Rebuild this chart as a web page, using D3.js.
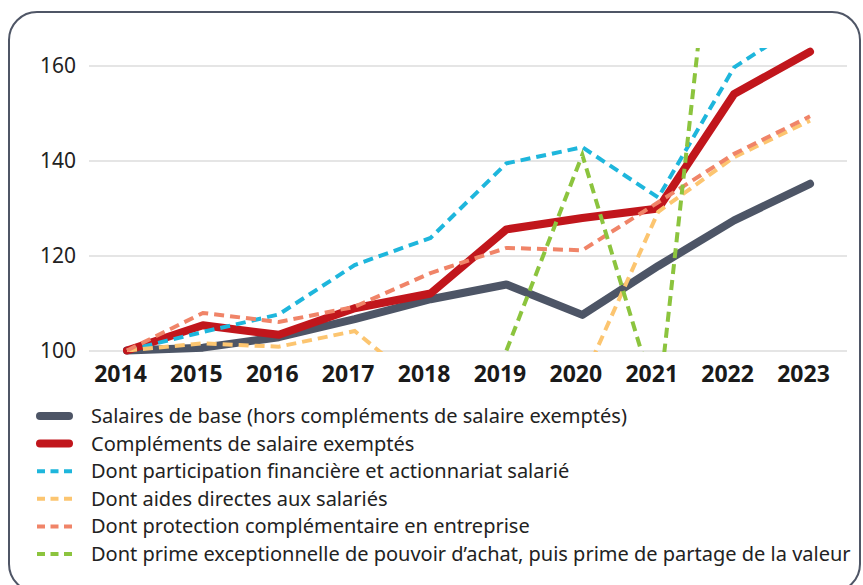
<!DOCTYPE html>
<html>
<head>
<meta charset="utf-8">
<script src="https://cdn.jsdelivr.net/npm/d3@7"></script>
<style>
  body { margin: 0; background: #fff; }
  svg { display: block; }
  svg text { font-family: "Noto Sans", "Open Sans", sans-serif; }
</style>
</head>
<body>
<div id="chart"></div>
<script>
// data (index, 2014 = 100)
var years = [2014, 2015, 2016, 2017, 2018, 2019, 2020, 2021, 2022, 2023];
var yTicks = [100, 120, 140, 160];
var baseSal = [100, 100.6, 102.8, 106.6, 110.8, 113.9, 107.5, 117.8, 127.4, 135.1];
var complements = [100, 105.3, 103.3, 108.9, 112, 125.5, 127.9, 129.9, 154, 162.9];
var participation = [100, 103.9, 107.6, 118, 123.7, 139.4, 142.8, 132.2, 159.6, 170];
var aides = [100, 101.5, 100.8, 104.1, 91, 87, 93.5, 129.2, 140.7, 148.4];
var protection = [100, 107.9, 106, 109.2, 116.3, 121.6, 121.1, 131.2, 141.4, 149.3];
var prime = [null, null, null, null, null, 100, 141.2, 88, 233, 205];

var seriesNames = [
  "Salaires de base (hors compléments de salaire exemptés)",
  "Compléments de salaire exemptés",
  "Dont participation financière et actionnariat salarié",
  "Dont aides directes aux salariés",
  "Dont protection complémentaire en entreprise",
  "Dont prime exceptionnelle de pouvoir d’achat, puis prime de partage de la valeur"
];
var seriesValues = [baseSal, complements, participation, aides, protection, prime];
var colors = ["#4d5566", "#c1161c", "#1eb6dc", "#fcc570", "#f08468", "#8cc43e"];
var solid = [true, true, false, false, false, false];

var W = 863, H = 585;
var svg = d3.select("#chart").append("svg").attr("width", W).attr("height", H);

// frame
svg.append("rect")
  .attr("x", 9).attr("y", 12).attr("width", 851).attr("height", 580)
  .attr("rx", 28).attr("ry", 28)
  .attr("fill", "none").attr("stroke", "#4f5666").attr("stroke-width", 2);

var x = d3.scalePoint().domain(years).range([127, 810]);
var y = d3.scaleLinear().domain([100, 160]).range([350.5, 65.5]);

// grid + y labels
var yAxis = svg.append("g").attr("transform", "translate(89,0)")
  .call(d3.axisLeft(y).tickValues(yTicks).tickSize(-758).tickPadding(13).tickFormat(d3.format("d")));
yAxis.select(".domain").remove();
yAxis.selectAll(".tick line").attr("stroke", "#dcdcdc").attr("stroke-width", 1.6);
yAxis.selectAll(".tick text").attr("fill", "#222").style("font-size", "21px").attr("dy", "0.35em");

// x labels
var xAxis = svg.append("g").attr("transform", "translate(-7,382)")
  .call(d3.axisBottom(x).tickSize(0).tickPadding(0).tickFormat(d3.format("d")));
xAxis.select(".domain").remove();
xAxis.selectAll(".tick text").attr("fill", "#1a1a1a").style("font-size", "23px")
  .style("font-weight", "bold").attr("dy", "0");

svg.append("clipPath").attr("id", "plotclip")
  .append("rect").attr("x", 80).attr("y", 48).attr("width", 780).attr("height", 304);

var line = d3.line()
  .defined(function(d) { return d.v != null; })
  .x(function(d) { return x(d.year); })
  .y(function(d) { return y(d.v); });

seriesValues.forEach(function(vals, i) {
  var pts = years.map(function(yr, k) { return { year: yr, v: vals[k] }; });
  var p = svg.append("path")
    .datum(pts)
    .attr("d", line)
    .attr("fill", "none")
    .attr("stroke", colors[i]);
  if (solid[i]) {
    p.attr("stroke-width", 8).attr("stroke-linecap", "round").attr("stroke-linejoin", "round");
  } else {
    p.attr("stroke-width", 4).attr("stroke-dasharray", "10,6")
      .attr("clip-path", "url(#plotclip)");
  }
});

// legend
var legend = svg.append("g");
seriesNames.forEach(function(name, i) {
  var ly = 416 + i * 27.6;
  var l = legend.append("line")
    .attr("y1", ly).attr("y2", ly)
    .attr("stroke", colors[i]);
  if (solid[i]) {
    l.attr("x1", 40).attr("x2", 69).attr("stroke-width", 8).attr("stroke-linecap", "round");
  } else {
    l.attr("x1", 37).attr("x2", 72).attr("stroke-width", 4).attr("stroke-dasharray", "8,5.5");
  }
  legend.append("text")
    .attr("x", 91).attr("y", ly).attr("dy", "0.35em")
    .attr("fill", "#222").style("font-size", "20px")
    .text(name);
});
</script>
</body>
</html>
